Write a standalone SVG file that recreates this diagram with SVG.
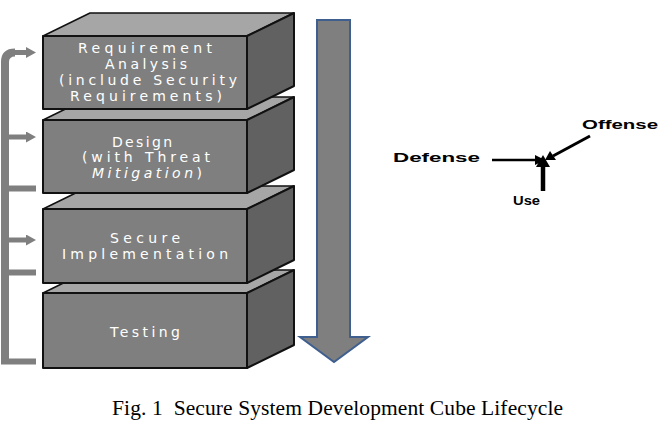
<svg xmlns="http://www.w3.org/2000/svg" width="668" height="430" viewBox="0 0 668 430">
<defs>
<style>
.front{fill:#7f7f7f;stroke:#111;stroke-width:2;stroke-linejoin:round}
.top{fill:#a6a6a6;stroke:#111;stroke-width:1.5;stroke-linejoin:round}
.side{fill:#616161;stroke:#111;stroke-width:2;stroke-linejoin:round}
.ct{font-family:"DejaVu Sans","Verdana",sans-serif;font-size:14px;fill:#fff;text-anchor:middle}
.fb{fill:none;stroke:#7f7f7f}
.lab{font-family:"Liberation Sans",Arial,sans-serif;font-weight:bold;font-size:13.5px;fill:#000}
.cap{font-family:"Liberation Serif","Times New Roman",serif;font-size:21.5px;fill:#000}
</style>
<marker id="gh" markerUnits="userSpaceOnUse" markerWidth="10" markerHeight="11" refX="1" refY="5.5" orient="auto">
<path d="M0,0 L10,5.5 L0,11 Z" fill="#7f7f7f"/>
</marker>
</defs>

<g id="cube-testing">
<polygon class="top" points="43,293 90,270 294,270 247,293"/>
<polygon class="side" points="247,293 294,270 294,345 247,368"/>
<rect class="front" x="43" y="293" width="204" height="75"/>
<text class="ct" x="145" y="337" textLength="70" lengthAdjust="spacing">Testing</text>
</g>

<g id="cube-implementation">
<polygon class="top" points="43,209 90,186 294,186 247,209"/>
<polygon class="side" points="247,209 294,186 294,260 247,283"/>
<rect class="front" x="43" y="209" width="204" height="74"/>
<text class="ct" x="145" y="243" textLength="70" lengthAdjust="spacing">Secure</text>
<text class="ct" x="145" y="259" textLength="166" lengthAdjust="spacing">Implementation</text>
</g>

<g id="cube-design">
<polygon class="top" points="43,120 90,97 294,97 247,120"/>
<polygon class="side" points="247,120 294,97 294,170 247,193"/>
<rect class="front" x="43" y="120" width="204" height="73"/>
<text class="ct" x="142" y="147" textLength="60" lengthAdjust="spacing">Design</text>
<text class="ct" x="146" y="162" textLength="128" lengthAdjust="spacing">(with Threat</text>
<text class="ct" x="147" y="178" textLength="110" lengthAdjust="spacing"><tspan font-style="italic">Mitigation</tspan>)</text>
</g>

<g id="cube-requirement">
<polygon class="top" points="43,36 90,13 294,13 247,36"/>
<polygon class="side" points="247,36 294,13 294,86 247,109"/>
<rect class="front" x="43" y="36" width="204" height="73"/>
<text class="ct" x="145" y="53" textLength="134" lengthAdjust="spacing">Requirement</text>
<text class="ct" x="146" y="69" textLength="82" lengthAdjust="spacing">Analysis</text>
<text class="ct" x="148" y="85" textLength="178" lengthAdjust="spacing">(include Security</text>
<text class="ct" x="146" y="101" textLength="152" lengthAdjust="spacing">Requirements)</text>
</g>

<g id="flow-arrow">
<path d="M317,20 H350 V337 H368 L334,362 L300,337 H317 Z" fill="#7f7f7f" stroke="#3f5f8f" stroke-width="2" stroke-linejoin="miter"/>
</g>

<g id="connectors">
<path class="fb" stroke-width="8" d="M5,364 V62 Q5,52.5 15,52.5"/>
<path class="fb" stroke-width="5" d="M14,52.5 H27" marker-end="url(#gh)"/>
<path class="fb" stroke-width="5" d="M9,137 H27" marker-end="url(#gh)"/>
<path class="fb" stroke-width="5" d="M9,240 H27" marker-end="url(#gh)"/>
<path class="fb" stroke-width="6" d="M9,188.5 H36"/>
<path class="fb" stroke-width="6" d="M9,272.5 H36"/>
<path class="fb" stroke-width="6" d="M1,361.5 H36"/>

<line x1="492" y1="160" x2="535" y2="160" stroke="#000" stroke-width="2.5"/>
<polygon points="535,155 545,160 535,165" fill="#000"/>
<line x1="543" y1="191" x2="543" y2="166" stroke="#000" stroke-width="4.5"/>
<polygon points="536,167 543,155 550,167" fill="#000"/>
<line x1="590" y1="136" x2="553" y2="156" stroke="#000" stroke-width="3"/>
<polygon points="550,151 545,160 556,160" fill="#000"/>
</g>

<g id="offense-defense-use">
<text class="lab" x="393" y="162" textLength="87" lengthAdjust="spacingAndGlyphs">Defense</text>
<text class="lab" x="582" y="129" textLength="76" lengthAdjust="spacingAndGlyphs">Offense</text>
<text class="lab" x="513" y="205" textLength="27" lengthAdjust="spacingAndGlyphs">Use</text>
</g>

<text class="cap" x="112" y="415" textLength="451" lengthAdjust="spacing">Fig. 1&#160; Secure System Development Cube Lifecycle</text>
</svg>
